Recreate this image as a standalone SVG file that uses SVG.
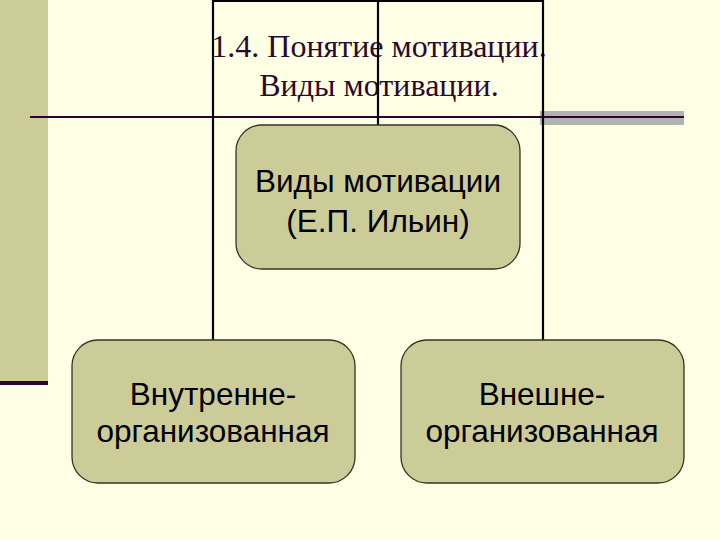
<svg xmlns="http://www.w3.org/2000/svg" width="720" height="540" viewBox="0 0 720 540">
<style>
.box{fill:#CCCC99;stroke:#333322;stroke-width:1.3}
.lbl{font-family:"Liberation Sans",Arial,sans-serif;font-size:31.5px;fill:#000;text-anchor:middle}
.ttl{font-family:"Liberation Serif","Times New Roman",serif;font-size:32px;fill:#2A0A2A;text-anchor:middle}
.con{stroke:#000;stroke-width:2.2;fill:none}
</style>
<rect width="720" height="540" fill="#FFFFE5"/>
<rect x="0" y="0" width="48" height="383" fill="#CCCC99"/>
<rect x="0" y="381" width="48" height="4" fill="#330033"/>
<rect x="540" y="111" width="144" height="14" fill="#B2B2B2"/>
<line x1="30" y1="117" x2="684" y2="117" stroke="#330033" stroke-width="2"/>
<g id="title">
<text class="ttl" x="379" y="57">1.4. Понятие мотивации.</text>
<text class="ttl" x="379" y="96">Виды мотивации.</text>
</g>
<g id="connectors">
<polyline class="con" points="213,340 213,1 543,1 543,340"/>
<line class="con" x1="378" y1="1" x2="378" y2="126"/>
</g>
<g id="root">
<rect class="box" x="236" y="125" width="284" height="144" rx="26"/>
<text class="lbl" x="378" y="192">Виды мотивации</text>
<text class="lbl" x="378" y="232">(Е.П. Ильин)</text>
</g>
<g id="internal">
<rect class="box" x="72" y="340" width="283" height="143" rx="26"/>
<text class="lbl" x="213" y="405">Внутренне-</text>
<text class="lbl" x="213" y="442">организованная</text>
</g>
<g id="external">
<rect class="box" x="401" y="340" width="283" height="143" rx="26"/>
<text class="lbl" x="542" y="405">Внешне-</text>
<text class="lbl" x="542" y="442">организованная</text>
</g>
</svg>
